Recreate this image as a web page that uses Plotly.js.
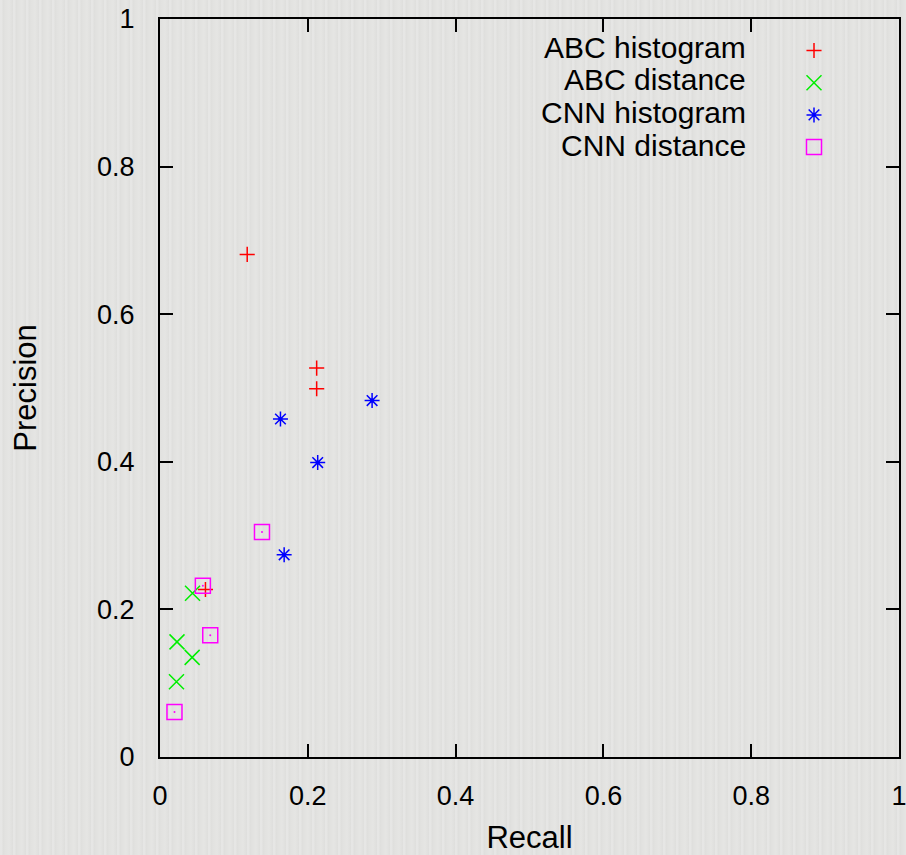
<!DOCTYPE html>
<html>
<head>
<meta charset="utf-8">
<script src="https://cdn.plot.ly/plotly-3.0.1.min.js"></script>
<style>
  html, body { margin: 0; padding: 0; }
  body {
    width: 906px; height: 855px; overflow: hidden;
    background-color: #e3e3e1;
    background-image: repeating-linear-gradient(90deg, rgba(255,255,255,0.12) 0px, rgba(255,255,255,0.12) 2px, rgba(0,0,0,0.018) 3px, rgba(0,0,0,0.0) 6px, rgba(255,255,255,0.08) 9px, rgba(0,0,0,0.02) 13px);
  }
  #chart { width: 906px; height: 855px; }
</style>
</head>
<body>
<div id="chart"></div>
<script>
// ---- data ----
const seriesNames = ["ABC histogram", "ABC distance", "CNN histogram", "CNN distance"];

const abcHistRecall    = [0.118, 0.212, 0.212, 0.0615];
const abcHistPrecision = [0.681, 0.527, 0.499, 0.227];

const abcDistRecall    = [0.044, 0.023, 0.0435, 0.0223];
const abcDistPrecision = [0.222, 0.156, 0.135, 0.102];

const cnnHistRecall    = [0.163, 0.287, 0.2134, 0.168];
const cnnHistPrecision = [0.458, 0.483, 0.399, 0.274];

const cnnDistRecall    = [0.058, 0.068, 0.0196, 0.138];
const cnnDistPrecision = [0.232, 0.165, 0.061, 0.305];

const tickValues = [0, 0.2, 0.4, 0.6, 0.8, 1];
const tickLabels = ["0", "0.2", "0.4", "0.6", "0.8", "1"];

// ---- styles ----
const colors = ["#ff0000", "#00ee00", "#0000ff", "#ff00ff"];
const FONT = "Liberation Sans, Arial, Helvetica, sans-serif";

const traces = [
  { x: abcHistRecall, y: abcHistPrecision, name: seriesNames[0], legendgroup: "g0", type: "scatter", mode: "markers",
    marker: { symbol: "cross-thin-open", size: 10.8, color: colors[0], line: { color: colors[0], width: 1.5 } } },
  { x: abcDistRecall, y: abcDistPrecision, name: seriesNames[1], legendgroup: "g1", type: "scatter", mode: "markers",
    marker: { symbol: "x-thin-open", size: 15, color: colors[1], line: { color: colors[1], width: 1.5 } } },
  { x: cnnHistRecall, y: cnnHistPrecision, name: seriesNames[2], legendgroup: "g2", type: "scatter", mode: "markers",
    marker: { symbol: "asterisk-open", size: 12.5, color: colors[2], line: { color: colors[2], width: 1.5 } } },
  { x: cnnDistRecall, y: cnnDistPrecision, name: seriesNames[3], legendgroup: "g3", type: "scatter", mode: "markers",
    marker: { symbol: "square-open", size: 15, color: colors[3], line: { color: colors[3], width: 1.5 } } },
  // centre dots of the asterisk and square symbols
  { x: cnnHistRecall, y: cnnHistPrecision, type: "scatter", mode: "markers", showlegend: false, hoverinfo: "skip",
    marker: { symbol: "circle", size: 4, color: colors[2] } },
  { x: cnnDistRecall, y: cnnDistPrecision, type: "scatter", mode: "markers", showlegend: false, hoverinfo: "skip",
    marker: { symbol: "circle", size: 2, color: colors[3] } }
];

const axisCommon = {
  range: [0, 1],
  tickmode: "array",
  tickvals: tickValues,
  ticktext: tickLabels,
  ticks: "inside",
  ticklen: 13,
  tickwidth: 2,
  tickcolor: "#000",
  showline: true,
  linewidth: 2,
  linecolor: "#000",
  mirror: "ticks",
  showgrid: false,
  zeroline: false,
  fixedrange: true,
  ticklabeloverflow: "allow",
  tickfont: { family: FONT, size: 27, color: "#000" }
};

// legend text drawn right-aligned to the left of the symbols
const legendRowsY = [47.5, 80, 112.5, 145];
const PLOT_TOP = 19, PLOT_H = 738, PLOT_L = 160, PLOT_W = 739;
const annotations = seriesNames.map((n, i) => ({
  text: n, xref: "paper", yref: "paper",
  x: (748 - PLOT_L) / PLOT_W, y: 1 - (legendRowsY[i] - PLOT_TOP) / PLOT_H,
  xanchor: "right", yanchor: "middle", showarrow: false,
  font: { family: FONT, size: 30, color: "#000" }
}));

const layout = {
  width: 906, height: 855,
  margin: { l: 160, r: 7, t: 19, b: 98, pad: 0 },
  paper_bgcolor: "rgba(0,0,0,0)",
  plot_bgcolor: "rgba(0,0,0,0)",
  font: { family: FONT, color: "#000" },
  xaxis: Object.assign({}, axisCommon, {
    ticklabelstandoff: 14,
    title: { text: "Recall", font: { family: FONT, size: 31, color: "#000" }, standoff: 18 }
  }),
  yaxis: Object.assign({}, axisCommon, {
    ticklabelstandoff: 18,
    title: { text: "Precision", font: { family: FONT, size: 31, color: "#000" }, standoff: 51 }
  }),
  showlegend: true,
  legend: {
    x: (794 - PLOT_L) / PLOT_W, xanchor: "left",
    y: 1 - (36 - PLOT_TOP) / PLOT_H, yanchor: "top",
    bgcolor: "rgba(0,0,0,0)", borderwidth: 0,
    font: { family: FONT, size: 1, color: "rgba(0,0,0,0)" },
    tracegroupgap: 13.2,
    itemclick: false, itemdoubleclick: false
  },
  annotations: annotations
};

Plotly.newPlot("chart", traces, layout, { displayModeBar: false, staticPlot: true });
</script>
</body>
</html>
